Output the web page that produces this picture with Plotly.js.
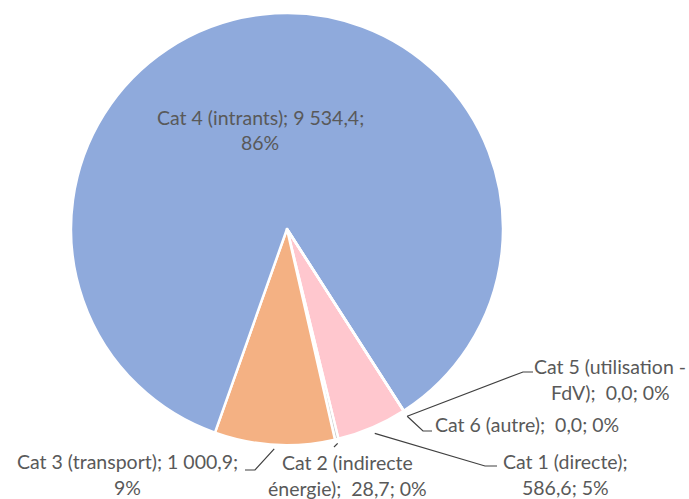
<!DOCTYPE html>
<html><head><meta charset="utf-8">
<script src="https://cdn.plot.ly/plotly-3.0.1.min.js"></script>
<style>html,body{margin:0;padding:0;background:#fff;}#chart{width:689px;height:499px;}</style>
</head><body><div id="chart"></div>
<script>
// ---- data ----
const categories = ["Cat 1 (directe)", "Cat 2 (indirecte énergie)", "Cat 3 (transport)", "Cat 4 (intrants)", "Cat 5 (utilisation - FdV)", "Cat 6 (autre)"];
const values = [586.6, 28.7, 1000.9, 9534.4, 0.0, 0.0];
const colors = ["#FFC7CE", "#C9C9C9", "#F4B183", "#8FAADC", "#A9D18E", "#FFE699"];

// ---- layout constants (pixels) ----
const W = 689, H = 499;
const CX = 287, CY = 229, R = 216;
const ROT = 147.3;
const FONT = "Lato, 'Open Sans', sans-serif";
const FONT_SIZE = 19.5;
const LINE_GAP = 26;
const TEXT_COLOR = "#595959";
// label placement: [x center, y center of first line, wrap width in chars, wide separator]
const labelPos = [[565, 461, 16, false], [347, 462, 19, true], [127, 461, 27, false], [260, 117, 26, false], [610, 366, 20, true], [527, 424, 30, true]];
// leader-line elbows (pixel points after slice edge), null = no leader
const leaderEnds = [[[485, 466], [497, 466]], [[334, 447]], [[255, 470], [245, 470]], null, [[523, 372], [533, 372]], [[423, 431], [432, 431]]];
const leaderRadius = [1.03, 1.02, 1.02, 0, 1.03, 1.03];

const total = values.reduce((a, b) => a + b, 0);
function fmtNum(v) {
  const s = v.toFixed(1).split(".");
  const ip = s[0].replace(/\B(?=(\d{3})+(?!\d))/g, "\u00a0");
  return ip + "," + s[1];
}
function wrap(text, width) {
  const words = text.split(" ");
  const lines = [];
  let cur = "";
  for (const w of words) {
    if (cur === "") cur = w;
    else if ((cur + " " + w).length <= width) cur += " " + w;
    else { lines.push(cur); cur = w; }
  }
  if (cur) lines.push(cur);
  return lines;
}
const px = (x, y) => [x / W, 1 - y / H];

const annotations = [];
const shapes = [];
let cum = 0;
values.forEach((v, i) => {
  const pct = Math.round(v / total * 100);
  const [lx, ly, ww, wide] = labelPos[i];
  const full = categories[i] + ";" + (wide ? "\u00a0 " : " ") + fmtNum(v) + "; " + pct + "%";
  wrap(full, ww).forEach((line, k) => {
    const p = px(lx, ly + k * LINE_GAP);
    annotations.push({
      xref: "paper", yref: "paper", x: p[0], y: p[1],
      xanchor: "center", yanchor: "middle", showarrow: false,
      text: line, font: {family: FONT, size: FONT_SIZE, color: TEXT_COLOR}
    });
  });
  const mid = ROT + (cum + v / 2) / total * 360;
  cum += v;
  if (leaderEnds[i]) {
    const a = mid * Math.PI / 180;
    const rr = R * leaderRadius[i];
    const pts = [[CX + rr * Math.sin(a), CY - rr * Math.cos(a)]].concat(leaderEnds[i]);
    const path = pts.map((q, j) => { const p = px(q[0], q[1]); return (j ? "L" : "M") + p[0].toFixed(5) + "," + p[1].toFixed(5); }).join(" ");
    shapes.push({type: "path", xref: "paper", yref: "paper", path: path, line: {color: "#404040", width: 1.2}});
  }
});

const trace = {
  type: "pie",
  labels: categories,
  values: values,
  sort: false,
  direction: "clockwise",
  rotation: ROT,
  textinfo: "none",
  hoverinfo: "none",
  marker: {colors: colors, line: {color: "#ffffff", width: 2.5}},
  domain: {x: [(CX - R) / W, (CX + R) / W], y: [1 - (CY + R) / H, 1 - (CY - R) / H]}
};

const layout = {
  width: W, height: H,
  margin: {l: 0, r: 0, t: 0, b: 0},
  paper_bgcolor: "#ffffff",
  showlegend: false,
  annotations: annotations,
  shapes: shapes
};
Plotly.newPlot("chart", [trace], layout, {displayModeBar: false, staticPlot: true});
</script>
</body></html>
